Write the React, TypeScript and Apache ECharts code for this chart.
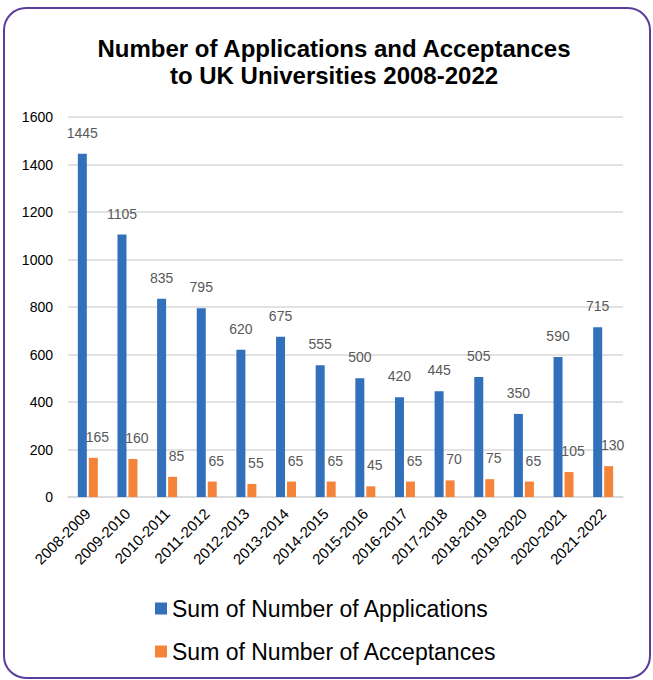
import React, { useEffect, useRef } from "react";
import * as echarts from "echarts";

const categories = [
  "2008-2009", "2009-2010", "2010-2011", "2011-2012", "2012-2013", "2013-2014", "2014-2015",
  "2015-2016", "2016-2017", "2017-2018", "2018-2019", "2019-2020", "2020-2021", "2021-2022",
];
const applications = [1445, 1105, 835, 795, 620, 675, 555, 500, 420, 445, 505, 350, 590, 715];
const acceptances = [165, 160, 85, 65, 55, 65, 65, 45, 65, 70, 75, 65, 105, 130];
const yTicks = { min: 0, max: 1600, interval: 200 };
const titleText = "Number of Applications and Acceptances\nto UK Universities 2008-2022";
const seriesNames = ["Sum of Number of Applications", "Sum of Number of Acceptances"];

const FONT = "'Liberation Sans', Arial, sans-serif";

export default function App() {
  const ref = useRef<HTMLDivElement>(null);
  useEffect(() => {
    if (!ref.current) return;
    const chart = echarts.init(ref.current, undefined, { renderer: "svg" });
    const labelStyle = {
      show: true,
      position: "top" as const,
      distance: 14,
      fontSize: 14,
      color: "#595959",
      fontFamily: FONT,
    };
    chart.setOption({
      animation: false,
      backgroundColor: "#ffffff",
      graphic: [
        {
          type: "rect",
          shape: { x: 4, y: 8, width: 646, height: 670, r: 22 },
          style: { fill: "none", stroke: "#5b3e9b", lineWidth: 2 },
          silent: true,
          z: 100,
        },
      ],
      title: {
        text: titleText,
        left: 334,
        textAlign: "center",
        top: 35,
        padding: 0,
        textStyle: {
          fontFamily: FONT,
          fontWeight: "bold",
          fontSize: 24,
          lineHeight: 27,
          color: "#000000",
        },
      },
      legend: {
        orient: "vertical",
        left: 155,
        top: 597,
        padding: 0,
        itemWidth: 12,
        itemHeight: 12,
        itemGap: 20,
        icon: "rect",
        textStyle: { fontFamily: FONT, fontSize: 23, lineHeight: 23, color: "#000000" },
        data: seriesNames,
      },
      grid: { left: 68, right: 30, top: 117, bottom: 183, containLabel: false },
      xAxis: {
        type: "category",
        data: categories,
        axisLine: { lineStyle: { color: "#d9d9d9", width: 1.5 } },
        axisTick: { show: false },
        axisLabel: {
          rotate: 45,
          interval: 0,
          fontSize: 15,
          color: "#000000",
          fontFamily: FONT,
          margin: 14,
        },
      },
      yAxis: {
        type: "value",
        min: yTicks.min,
        max: yTicks.max,
        interval: yTicks.interval,
        axisLine: { show: false },
        axisTick: { show: false },
        splitLine: { lineStyle: { color: "#d9d9d9", width: 1.5 } },
        axisLabel: {
          fontSize: 14,
          color: "#000000",
          fontFamily: FONT,
          margin: 15,
          formatter: (v: number) => String(v),
        },
      },
      series: [
        {
          name: seriesNames[0],
          type: "bar",
          data: applications,
          barWidth: 9,
          barGap: "22%",
          itemStyle: { color: "#3270bb" },
          label: { ...labelStyle },
        },
        {
          name: seriesNames[1],
          type: "bar",
          data: acceptances,
          barWidth: 9,
          itemStyle: { color: "#f4843a" },
          label: { ...labelStyle, offset: [4, 0] },
        },
      ],
    });
    return () => chart.dispose();
  }, []);
  return (
    <div
      ref={ref}
      style={{ position: "absolute", left: 0, top: 0, width: 653, height: 680 }}
    />
  );
}
